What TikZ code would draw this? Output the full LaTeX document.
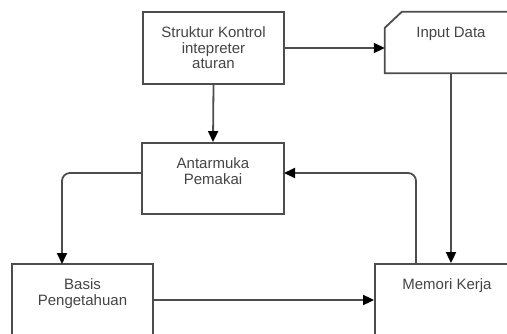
\documentclass[tikz,border=0pt]{standalone}
\usepackage{fontspec}
\setmainfont{Liberation Sans}
\usetikzlibrary{arrows.meta}
\definecolor{edge}{HTML}{4D4D4D}
\definecolor{ink}{HTML}{444444}
\tikzset{
  box/.style={draw=edge, line width=1.8pt, rectangle, inner sep=0pt},
  shell/.style={rectangle, inner sep=0pt},
  caption/.style={inner sep=0pt, text=ink, align=center,
    font=\fontsize{15}{15.5}\selectfont},
  link/.style={draw=edge, line width=1.8pt, rounded corners=8pt,
    -{Triangle[length=11pt,width=10pt,fill=black,color=black]}},
}
\begin{document}
\begin{tikzpicture}[x=1pt,y=-1pt]
\useasboundingbox (0,0) rectangle (507,333);
\clip (0,0) rectangle (507,333);

% boxes
\node[box, minimum width=141pt, minimum height=72pt] (struk) at (213.5,48) {};
\node[shell, minimum width=132pt, minimum height=61pt] (input) at (451,42.5) {};
\node[box, minimum width=142pt, minimum height=71pt] (antar) at (213,178.5) {};
\node[box, minimum width=141pt, minimum height=100pt] (basis) at (82.5,314) {};
\node[box, minimum width=144pt, minimum height=100pt] (memori) at (447,314) {};

% chamfered outline of the input block
\draw[edge, line width=1.8pt, line join=miter]
  ([yshift=-16pt]input.north west) -- ([xshift=17pt]input.north west)
  -- (input.north east) -- (input.south east) -- (input.south west) -- cycle;

% labels
\node[caption, below=15.5pt] (tstruk) at (struk.north) {Struktur Kontrol\\intepreter\\aturan};
\node[caption, below=15.5pt] (tinput) at (input.north) {Input Data};
\node[caption, below=15.5pt] (tantar) at (antar.north) {Antarmuka\\Pemakai};
\node[caption, below=15.5pt] (tbasis) at (basis.north) {Basis\\Pengetahuan};
\node[caption, below=15.5pt] (tmemori) at (memori.north) {Memori Kerja};

% taps on box edges
\coordinate (btap) at (62,264);
\coordinate (mtap) at (416,264);
\coordinate (awest) at (142,173);
\coordinate (aeast) at (284,173);
\coordinate (bout) at (153,300);

% connectors
\draw[link] (struk.south) -- (antar.north);
\draw[link] (struk.east) -- (struk.east -| input.west);
\draw[link] (awest) -| (btap);
\draw[link] (bout) -- (bout -| memori.west);
\draw[link] (input.south) -- (input.south |- memori.north);
\draw[link] (mtap) |- (aeast);
\end{tikzpicture}
\end{document}
